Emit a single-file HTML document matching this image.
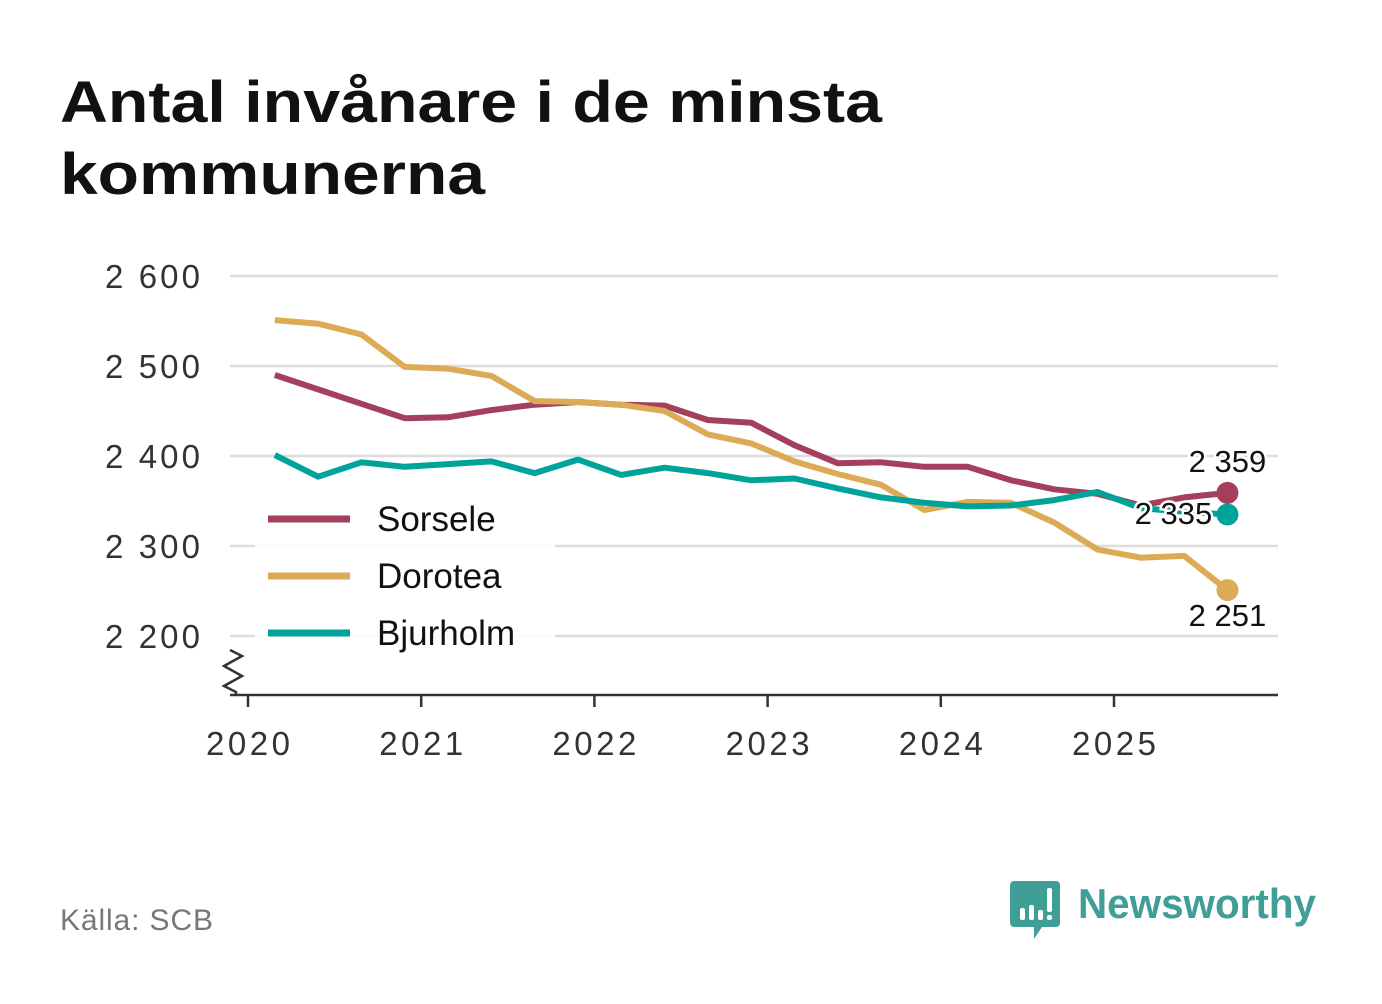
<!DOCTYPE html>
<html><head><meta charset="utf-8"><style>
body{margin:0;background:#fff;}
svg text{font-family:"Liberation Sans","DejaVu Sans",sans-serif;}
</style></head><body>
<svg id="c" width="1382" height="999" xmlns="http://www.w3.org/2000/svg">
<text x="60" y="122" font-size="58" font-weight="bold" fill="#111" textLength="822" lengthAdjust="spacingAndGlyphs">Antal invånare i de minsta</text>
<text x="60" y="194" font-size="58" font-weight="bold" fill="#111" textLength="425" lengthAdjust="spacingAndGlyphs">kommunerna</text>
<g id="grid"></g>
<g id="lines"></g>
<g id="legend"></g>
<text x="60" y="930" font-size="30" fill="#777" textLength="153">Källa: SCB</text>
<g>
<path d="M1014 881 h42 a4 4 0 0 1 4 4 v38 a4 4 0 0 1 -4 4 h-14 l-8 12 v-12 h-20 a4 4 0 0 1 -4 -4 v-38 a4 4 0 0 1 4 -4z" fill="#3f9e96"/>
<rect x="1020" y="908" width="5" height="12" rx="2" fill="#fff"/><rect x="1029" y="905" width="5" height="15" rx="2" fill="#fff"/><rect x="1038" y="910" width="5" height="10" rx="2" fill="#fff"/><rect x="1047" y="888" width="5" height="24" rx="2" fill="#fff"/><rect x="1047" y="915" width="5" height="5" rx="2" fill="#fff"/>
<text x="1078" y="918" font-size="42" font-weight="bold" fill="#3f9e96" textLength="238" lengthAdjust="spacingAndGlyphs">Newsworthy</text>
</g>
</svg>
<script>
const years=[2020,2021,2022,2023,2024,2025];
const yTicks=[2200,2300,2400,2500,2600];
const sorsele=[2490,2474,2458,2442,2443,2451,2457,2460,2457,2456,2440,2437,2412,2392,2393,2388,2388,2373,2363,2358,2345,2354,2359];
const dorotea=[2551,2547,2535,2499,2497,2489,2461,2460,2457,2450,2424,2414,2394,2380,2368,2340,2349,2348,2326,2296,2287,2289,2251];
const bjurholm=[2401,2377,2393,2388,2391,2394,2381,2396,2379,2387,2381,2373,2375,2364,2354,2348,2344,2345,2351,2360,2342,2338,2335];
const startYear=2020.155;
const NS="http://www.w3.org/2000/svg";
const X=t=>248+(t-2020)*173.2;
const Y=v=>636-(v-2200)*0.9;
const qx=i=>X(startYear+i*0.25);
function mk(tag,attrs,parent){const e=document.createElementNS(NS,tag);for(const k in attrs)e.setAttribute(k,attrs[k]);parent.appendChild(e);return e;}
const grid=document.getElementById('grid'),lines=document.getElementById('lines'),leg=document.getElementById('legend');
yTicks.forEach(v=>{
 const l=mk('line',{x1:230,x2:1278,y1:Y(v),y2:Y(v),stroke:'#ddd','stroke-width':2.5},grid);
 
 
 const t=mk('text',{x:200,y:Y(v)+12,'font-size':33,'text-anchor':'end',fill:'#333',textLength:95},grid);
 t.textContent=String(v).replace(/(\d)(\d{3})$/,'$1 $2');
 
 
});
const ax=mk('line',{x1:230,x2:1278,y1:695,y2:695,stroke:'#333','stroke-width':2.5},grid);


const br=mk('path',{d:'M230 650 l12 6 l-18 10 l18 10 l-18 10 l12 6 v3',fill:'none',stroke:'#333','stroke-width':2.5},grid);


years.forEach(y=>{
 const tk=mk('line',{x1:X(y),x2:X(y),y1:695,y2:707,stroke:'#333','stroke-width':2.5},grid);
 
 
 const t=mk('text',{x:X(y),y:755,'font-size':33,'text-anchor':'middle',fill:'#333',textLength:84},grid);
 t.textContent=y;
 
 
});
const series=[['Sorsele',sorsele,'#a43f5c'],['Dorotea',dorotea,'#dcab55'],['Bjurholm',bjurholm,'#00a39a']];
const lb=mk('rect',{x:255,y:495,width:300,height:170,fill:'#fff',opacity:0.9},leg);


series.forEach(([n,d,c],k)=>{
 const p=mk('polyline',{points:d.map((v,i)=>qx(i)+','+Y(v)).join(' '),fill:'none',stroke:c,'stroke-width':6,'stroke-linejoin':'round'},lines);
 
 
 const ly=519+k*57;
 const ll=mk('line',{x1:268,x2:350,y1:ly,y2:ly,stroke:c,'stroke-width':7},leg);
 
 
 const lt=mk('text',{x:377,y:ly+12,'font-size':35,fill:'#111'},leg);
 lt.textContent=n;
 
 
});
const labs=[[sorsele,0,472],[bjurholm,-54,524],[dorotea,0,626]];
labs.forEach(([d,dx,ly])=>{
 const v=d[d.length-1];
 const t=mk('text',{x:qx(d.length-1)+dx,y:ly,'font-size':31,'text-anchor':'middle',fill:'#111',stroke:'#fff','stroke-width':5,'paint-order':'stroke'},lines);
 t.textContent=String(v).replace(/(\d)(\d{3})$/,'$1 $2');
 
 
});
series.forEach(([n,d,c])=>{
 const last=d.length-1;
 const dot=mk('circle',{cx:qx(last),cy:Y(d[last]),r:11,fill:c},lines);
 
 
});
</script>
</body></html>
